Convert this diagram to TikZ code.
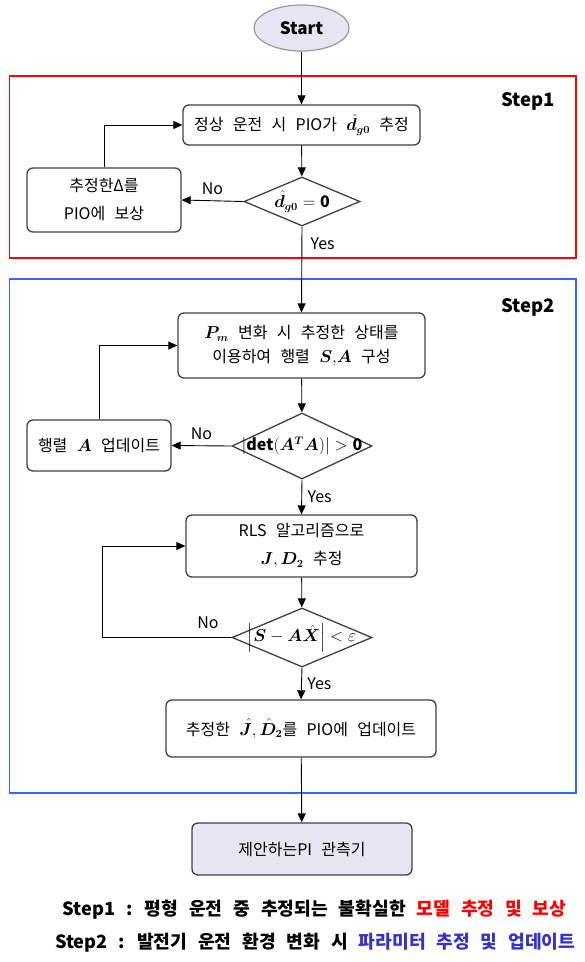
\documentclass[tikz,border=0pt]{standalone}
\usepackage{amsmath,amssymb}
\usepackage{bm}
\usepackage{fontspec}
\setmainfont{Noto Sans CJK KR}[WordSpace=2.6]
\usepackage{tikz}
\usetikzlibrary{arrows.meta,shapes.geometric}
\usepackage{xcolor}
\definecolor{lav}{RGB}{230,230,242}
\definecolor{frameblue}{RGB}{51,102,255}
\definecolor{legblue}{RGB}{51,51,204}
\definecolor{edge}{RGB}{64,64,64}

\begin{document}
\begin{tikzpicture}[x=1pt,y=-1pt,
     proc/.style={draw=edge,line width=1.3pt,rounded corners=6pt,align=center,
       inner sep=0pt,font=\fontsize{16}{19}\selectfont},
     term/.style={proc,fill=lav},
     dec/.style={draw=edge,line width=1.3pt,diamond,inner sep=0pt},
     every label/.style={font=\fontsize{16}{19}\selectfont},
     arr/.style={draw=black,line width=0.9pt,-{Triangle[length=9pt,width=8pt]}},
     yn/.style={font=\fontsize{16}{19}\selectfont},
     lab/.style={font=\fontsize{18.5}{22}\selectfont\bfseries},
     leg/.style={anchor=east,font=\fontsize{18.2}{21}\selectfont\bfseries}]
    \useasboundingbox (0,0) rectangle (585,962);
    % frames
    \draw[red,line width=1.6pt] (9.5,76) rectangle (576,258);
    \draw[frameblue,line width=1.6pt] (9.5,279) rectangle (576,793);
    \node[lab] (s1) at (528,101) {Step1};
    \node[lab] (s2) at (528,307) {Step2};
    % step 1
    \node[draw=black!40,line width=1.2pt,ellipse,fill=lav,minimum width=95,
      minimum height=46,font=\fontsize{17}{20}\selectfont\bfseries] (start) at (301.5,28) {Start};
    \node[proc,minimum width=237,minimum height=40] (b1) at (301.5,125)
      {정상 운전 시 PIO가 $\bm{\hat{d}}_{\bm{g0}}$ 추정};
    \node[dec,minimum width=116,minimum height=49,
      label={center:$\bm{\hat{d}}_{\bm{g0}}=\mathbf{0}$}] (d1) at (302,201.5) {};
    \node[proc,minimum width=154,minimum height=64] (c1) at (104,200)
      {추정한Δ를\\[9pt]PIO에 보상};
    % step 2
    \node[proc,minimum width=247,minimum height=65] (b2) at (301.5,345.5)
      {$\bm{P_m}$ 변화 시 추정한 상태를\\[5pt]이용하여 행렬 $\bm{S},\!\bm{A}$ 구성};
    \node[dec,minimum width=140,minimum height=66,
      label={center:$\left|\mathbf{det}(\bm{A}^{\bm{T}}\bm{A})\right|>\mathbf{0}$}] (d2) at (302,446) {};
    \node[proc,minimum width=144,minimum height=51] (u2) at (99,445.5)
      {행렬 $\bm{A}$ 업데이트};
    \node[proc,minimum width=231,minimum height=62] (b3) at (301.5,546)
      {RLS 알고리즘으로\\[9pt]$\bm{J},\bm{D}_{\bm{2}}$ 추정};
    \node[dec,minimum width=140,minimum height=59,
      label={center:$\left|\bm{S}-\bm{A}\bm{\hat{X}}\right|<\varepsilon$}] (d3) at (302,637.5) {};
    \node[proc,minimum width=270,minimum height=57] (b4) at (301,728.5)
      {추정한 $\bm{\hat{J}},\bm{\hat{D}}_{\bm{2}}$를 PIO에 업데이트};
    \node[term,minimum width=220,minimum height=52] (end) at (302,849)
      {제안하는PI 관측기};
    \coordinate (k3) at (102,637.5);
    % connectors
    \draw[arr] (start) -- (b1);
    \draw[arr] (b1) -- (d1);
    \draw[arr] (d1.west) -- node[yn,above=2pt] (no1) {No} (c1.east);
    \draw[arr] (c1.north) |- (b1.west);
    \draw[arr] (d1.south) -- (b2.north);
    \node[yn,anchor=west] (yes1) at (307,244) {Yes};
    \draw[arr] (b2) -- (d2);
    \draw[arr] (d2.west) -- node[yn,above=2pt] (no2) {No} (u2.east);
    \draw[arr] (u2.north) |- (b2.west);
    \draw[arr] (d2.south) -- node[yn,right=2pt] (yes2) {Yes} (b3.north);
    \draw[arr] (b3) -- (d3);
    \draw[arr] (d3.west) -- (k3) |- (b3.west);
    \node[yn] (no3) at (208,623) {No};
    \draw[arr] (d3.south) -- node[yn,right=2pt] (yes3) {Yes} (b4.north);
    \draw[arr] (b4) -- (end);
    % legend
    \node[leg] (leg1) at (570,910)
      {Step1 : 평형 운전 중 추정되는 불확실한 \textcolor{red}{모델 추정 및 보상}};
    \node[leg] (leg2) at (579,943)
      {Step2 : 발전기 운전 환경 변화 시 \textcolor{legblue}{파라미터 추정 및 업데이트}};
  \end{tikzpicture}
\end{document}
